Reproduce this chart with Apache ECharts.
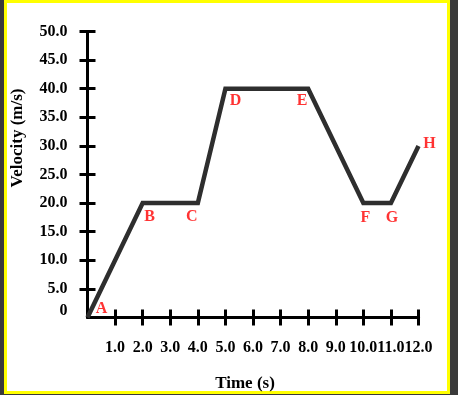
<!DOCTYPE html>
<html>
<head>
<meta charset="utf-8">
<script src="https://cdn.jsdelivr.net/npm/echarts@6/dist/echarts.min.js"></script>
<style>
  html, body { margin: 0; padding: 0; background: #3a3a3a; width: 458px; height: 395px; overflow: hidden; }
  #frame { position: absolute; left: 4px; top: 0px; width: 446px; height: 394px; box-sizing: border-box; border: 3px solid #ffff00; background: #ffffff; }
  #chart { position: absolute; left: 0; top: 0; width: 458px; height: 395px; }
</style>
</head>
<body>
<div id="frame"></div>
<div id="chart"></div>
<script>
const timeValues = [0, 2, 4, 5, 8, 10, 11, 12];
const velocityValues = [0, 20, 20, 40, 40, 20, 20, 30];
const pointNames = ['A', 'B', 'C', 'D', 'E', 'F', 'G', 'H'];
const xTickLabels = ['0', '1.0', '2.0', '3.0', '4.0', '5.0', '6.0', '7.0', '8.0', '9.0', '10.0', '11.0', '12.0'];
const yTickLabels = ['0', '5.0', '10.0', '15.0', '20.0', '25.0', '30.0', '35.0', '40.0', '45.0', '50.0'];
const xTitle = 'Time (s)';
const yTitle = 'Velocity (m/s)';

const FONT = 'Liberation Serif';
const labelOffsets = {
  A: [14, -9], B: [7, 14], C: [-6, 14], D: [10, 12],
  E: [-6, 12], F: [2, 15], G: [1, 15], H: [11, -2]
};
const axisLineStyle = { color: '#000', width: 3 };
const tickLabelStyle = { fontFamily: FONT, fontWeight: 'bold', fontSize: 16, color: '#000' };

const points = timeValues.map((t, i) => [t, velocityValues[i]]);
const labelData = points.map((p, i) => ({
  value: p,
  name: pointNames[i],
  label: { offset: labelOffsets[pointNames[i]] }
}));

function tickAxis(dim, inside, showLabel) {
  const isX = dim === 'x';
  return {
    type: 'category',
    data: isX ? xTickLabels : yTickLabels,
    boundaryGap: false,
    position: isX ? 'bottom' : 'left',
    axisLine: { show: false },
    axisTick: { show: true, inside: inside, length: 8, interval: (i) => i > 0, lineStyle: axisLineStyle },
    splitLine: { show: false },
    axisLabel: showLabel ? (isX ? {
      show: true, interval: (i) => i > 0, margin: 22, ...tickLabelStyle
    } : {
      show: true, interval: 0, margin: 20, ...tickLabelStyle,
      formatter: (v) => v === '0' ? '{z|0}' : v,
      rich: { z: { ...tickLabelStyle, padding: [0, 0, 14, 0] } }
    }) : { show: false }
  };
}

const chart = echarts.init(document.getElementById('chart'), null, { renderer: 'canvas' });
chart.setOption({
  backgroundColor: 'transparent',
  animation: false,
  grid: { left: 87.5, right: 39.5, top: 31.5, bottom: 77.5, containLabel: false },
  xAxis: [
    { type: 'value', min: 0, max: 12, interval: 1, position: 'bottom',
      axisLine: { show: true, onZero: false, lineStyle: axisLineStyle },
      axisTick: { show: false }, axisLabel: { show: false }, splitLine: { show: false } },
    tickAxis('x', false, true),
    tickAxis('x', true, false)
  ],
  yAxis: [
    { type: 'value', min: 0, max: 50, interval: 5, position: 'left',
      axisLine: { show: true, onZero: false, lineStyle: axisLineStyle },
      axisTick: { show: false }, axisLabel: { show: false }, splitLine: { show: false } },
    tickAxis('y', false, true),
    tickAxis('y', true, false)
  ],
  graphic: [
    { type: 'text', x: 245, y: 384,
      style: { text: xTitle, x: 0, y: 0, align: 'center', verticalAlign: 'middle',
        font: 'bold 17px "' + FONT + '"', fill: '#000' } },
    { type: 'text', x: 18, y: 138, rotation: Math.PI / 2,
      style: { text: yTitle, x: 0, y: 0, align: 'center', verticalAlign: 'middle',
        font: 'bold 17px "' + FONT + '"', fill: '#000' } }
  ],
  series: [
    {
      type: 'line', xAxisIndex: 0, yAxisIndex: 0, data: points,
      showSymbol: false, symbol: 'none', z: 5,
      lineStyle: { color: '#2e2e2e', width: 4.5, join: 'miter' }
    },
    {
      type: 'scatter', xAxisIndex: 0, yAxisIndex: 0, data: labelData,
      symbolSize: 1, itemStyle: { color: 'rgba(0,0,0,0)' }, z: 6, silent: true,
      label: { show: true, position: 'inside', formatter: (p) => p.name,
        color: '#ff0000', fontFamily: FONT, fontWeight: 'bold', fontSize: 16,
        align: 'center', verticalAlign: 'middle' }
    }
  ]
});
</script>
</body>
</html>
